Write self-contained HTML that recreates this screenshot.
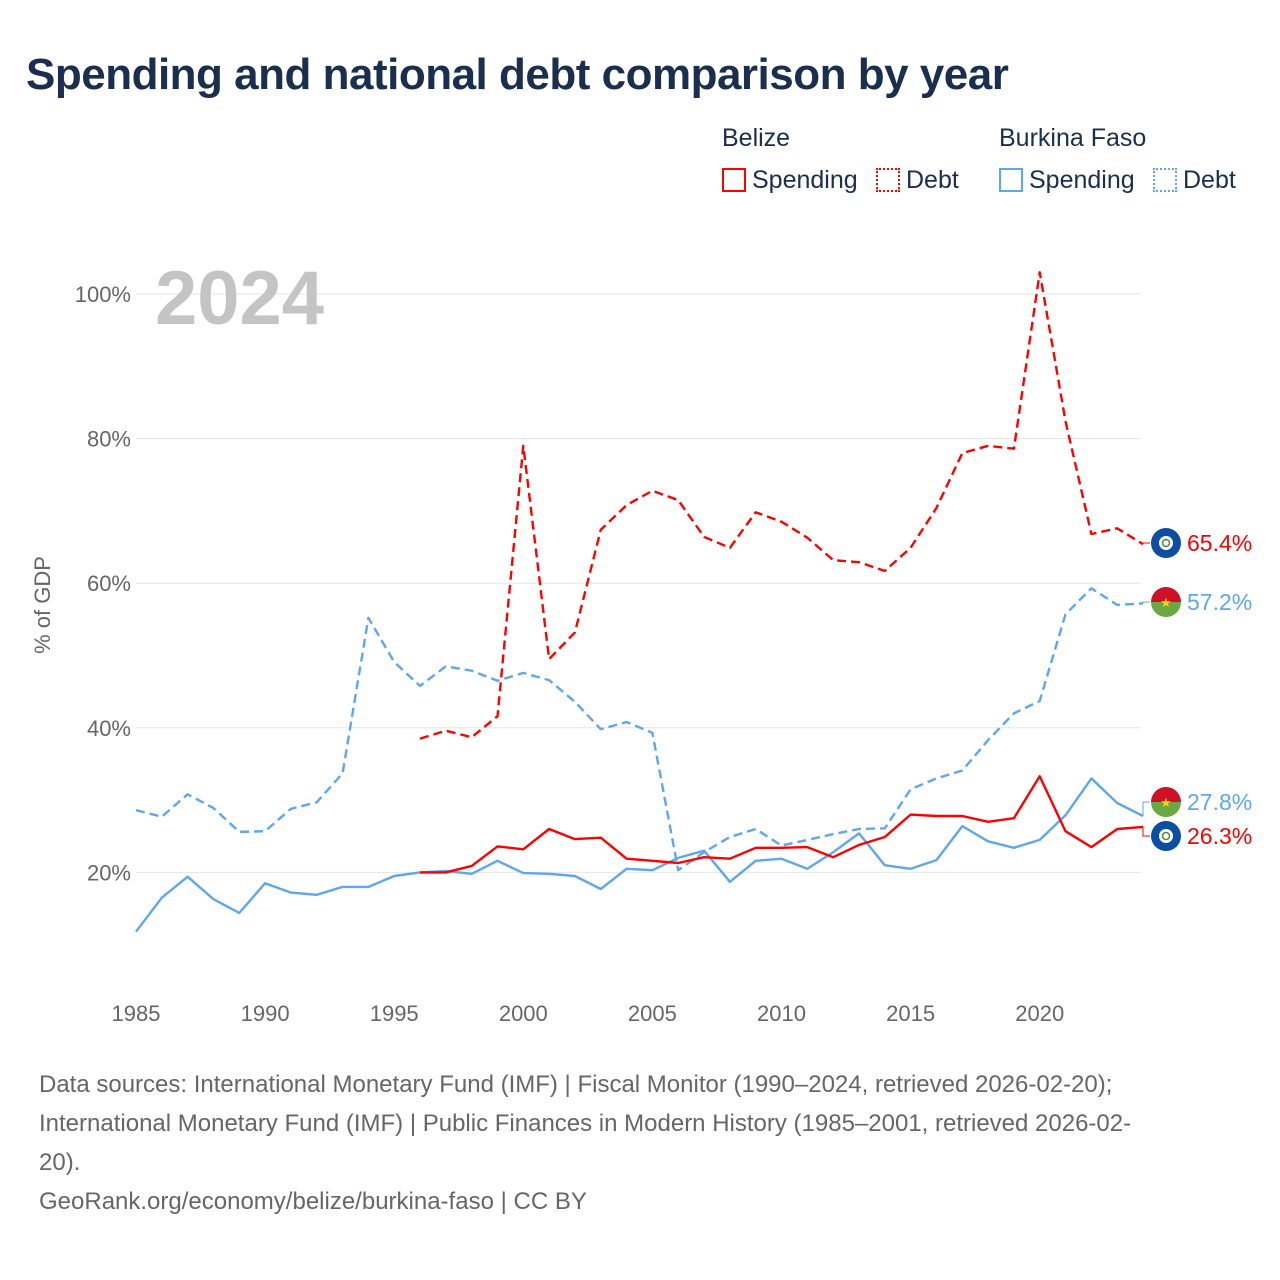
<!DOCTYPE html>
<html><head><meta charset="utf-8">
<style>
html,body{margin:0;padding:0;background:#fff;}
body{width:1280px;height:1280px;position:relative;font-family:"Liberation Sans",sans-serif;color:#1a2e4f;overflow:hidden;}
.t{position:absolute;white-space:nowrap;}
</style></head><body>
<div class="t" style="left:26px;top:50px;font-size:44px;font-weight:bold;color:#1a2e4f;letter-spacing:-0.5px;">Spending and national debt comparison by year</div>

<div class="t" style="left:722px;top:124px;font-size:25px;">Belize</div>
<div class="t" style="left:999px;top:124px;font-size:25px;">Burkina Faso</div>
<div class="t" style="left:722px;top:166px;font-size:25px;"><span style="display:inline-block;width:24px;height:24px;border:2px solid #f00;vertical-align:-4px;margin-right:6px;box-sizing:border-box;"></span>Spending</div>
<div class="t" style="left:876px;top:166px;font-size:25px;"><span style="display:inline-block;width:24px;height:24px;border:2px dotted #f00;vertical-align:-4px;margin-right:6px;box-sizing:border-box;"></span>Debt</div>
<div class="t" style="left:999px;top:166px;font-size:25px;"><span style="display:inline-block;width:24px;height:24px;border:2px solid #5ea7ee;vertical-align:-4px;margin-right:6px;box-sizing:border-box;"></span>Spending</div>
<div class="t" style="left:1153px;top:166px;font-size:25px;"><span style="display:inline-block;width:24px;height:24px;border:2px dotted #5ea7ee;vertical-align:-4px;margin-right:6px;box-sizing:border-box;"></span>Debt</div>

<svg id="chart" width="1280" height="1280" style="position:absolute;left:0;top:0;" xmlns="http://www.w3.org/2000/svg"></svg>

<div class="t" style="left:39px;top:1065px;font-size:24px;line-height:39px;color:#666;">Data sources: International Monetary Fund (IMF) | Fiscal Monitor (1990–2024, retrieved 2026-02-20);<br>International Monetary Fund (IMF) | Public Finances in Modern History (1985–2001, retrieved 2026-02-<br>20).<br>GeoRank.org/economy/belize/burkina-faso | CC BY</div>

<script>
const years = [1985,1986,1987,1988,1989,1990,1991,1992,1993,1994,1995,1996,1997,1998,1999,2000,2001,2002,2003,2004,2005,2006,2007,2008,2009,2010,2011,2012,2013,2014,2015,2016,2017,2018,2019,2020,2021,2022,2023,2024];
const bfSpending = [11.8,16.5,19.4,16.3,14.4,18.5,17.2,16.9,18.0,18.0,19.5,20.0,20.2,19.8,21.6,19.9,19.8,19.5,17.7,20.5,20.3,22.0,23.0,18.7,21.6,21.9,20.5,22.8,25.4,21.0,20.5,21.7,26.4,24.3,23.4,24.5,27.9,33.0,29.6,27.8];
const bfDebt = [28.6,27.7,30.8,28.9,25.6,25.7,28.8,29.7,33.7,55.2,49.1,45.8,48.5,47.9,46.5,47.6,46.6,43.6,39.8,40.8,39.3,20.3,22.8,24.9,26.0,23.7,24.5,25.3,26.0,26.1,31.5,33.0,34.1,38.3,42.0,43.7,55.7,59.3,57.0,57.2];
const bzSpending = [null,null,null,null,null,null,null,null,null,null,null,20.0,20.0,20.9,23.6,23.2,26.0,24.6,24.8,21.9,21.6,21.3,22.1,21.9,23.4,23.4,23.5,22.1,23.8,24.9,28.0,27.8,27.8,27.0,27.5,33.3,25.7,23.5,26.0,26.3];
const bzDebt = [null,null,null,null,null,null,null,null,null,null,null,38.5,39.6,38.7,41.6,79.0,49.5,53.2,67.4,70.8,72.8,71.5,66.4,64.9,69.8,68.5,66.3,63.2,62.9,61.7,64.9,70.4,78.0,79.0,78.6,103.0,82.4,66.8,67.6,65.4];
const yTicks = [20,40,60,80,100];
const xTicks = [1985,1990,1995,2000,2005,2010,2015,2020];

const svg = document.getElementById('chart');
const NS = 'http://www.w3.org/2000/svg';
const X = y => 136 + (y - 1985) * (1143 - 136) / 39;
const Y = v => 1017 - v * 7.23;
function mk(tag, attrs){const e=document.createElementNS(NS,tag);for(const k in attrs)e.setAttribute(k,attrs[k]);svg.appendChild(e);return e;}

yTicks.forEach(v=>{
  const g = mk('line',{x1:136,x2:1141,y1:Y(v),y2:Y(v),stroke:'#e6e6e6','stroke-width':1});
  
  
  const t = mk('text',{x:131,y:Y(v)+8,'text-anchor':'end','font-size':22,fill:'#666','font-family':'Liberation Sans, sans-serif'});
  t.textContent = v+'%';
  
  
});
xTicks.forEach(yr=>{
  const t = mk('text',{x:X(yr),y:1021,'text-anchor':'middle','font-size':22,fill:'#666','font-family':'Liberation Sans, sans-serif'});
  t.textContent = yr;
  
  
});
const yt = mk('text',{x:0,y:0,transform:'translate(50,605) rotate(-90)','text-anchor':'middle','font-size':22,fill:'#666','font-family':'Liberation Sans, sans-serif'});
yt.textContent='% of GDP';


const yr = mk('text',{x:155,y:324,'font-size':76,'font-weight':'bold',fill:'#c4c4c4','font-family':'Liberation Sans, sans-serif'});
yr.textContent='2024';



function series(vals,color,dash,name){
  let d='';let pen=false;
  vals.forEach((v,i)=>{ if(v==null){pen=false;return;} d+=(pen?'L':'M')+X(years[i]).toFixed(1)+' '+Y(v).toFixed(1)+' '; pen=true;});
  const p = mk('path',{d:d,fill:'none',stroke:color,'stroke-width':2.4,'stroke-dasharray':dash,'stroke-linejoin':'round'});
  
  
}
series(bfDebt,'#5ea7ee','9 5','line-burkina-debt');
series(bzDebt,'#ff0000','9 5','line-belize-debt');
series(bfSpending,'#5ea7ee','none','line-burkina-spending');
series(bzSpending,'#ff0000','none','line-belize-spending');

function endLabel(vals,labelY,color,flag,name){
  const v = vals[vals.length-1];
  const x0 = X(2024), y0 = Y(v);
  const c = mk('path',{d:`M${x0} ${y0} L${x0} ${labelY} L${x0+7} ${labelY}`,fill:'none',stroke:color,'stroke-width':1});
  
  
  const cx = 1166;
  if(flag==='bz'){
    const a=mk('circle',{cx:cx,cy:labelY,r:15,fill:'#0b4ea2'});
    
    
    mk('circle',{cx:cx,cy:labelY,r:7,fill:'#fff'});
    mk('circle',{cx:cx,cy:labelY,r:3.5,fill:'none',stroke:'#4a8a3a','stroke-width':1.5});
  } else {
    const a=mk('path',{d:`M${cx-15} ${labelY} A15 15 0 0 1 ${cx+15} ${labelY} Z`,fill:'#ce1126'});
    
    
    mk('path',{d:`M${cx-15} ${labelY} A15 15 0 0 0 ${cx+15} ${labelY} Z`,fill:'#6aa844'});
    const s=mk('text',{x:cx,y:labelY+5,'text-anchor':'middle','font-size':13,fill:'#fcd116'});s.textContent='★';
  }
  const t = mk('text',{x:1187,y:labelY+8,'font-size':23,fill:color,'font-family':'Liberation Sans, sans-serif'});
  t.textContent = v.toFixed(1)+'%';
  
  
}
endLabel(bzDebt,543,'#ff0000','bz','belize-debt');
endLabel(bfDebt,602,'#5ea7ee','bf','burkina-debt');
endLabel(bfSpending,802,'#5ea7ee','bf','burkina-spending');
endLabel(bzSpending,836,'#ff0000','bz','belize-spending');
</script>
</body></html>
